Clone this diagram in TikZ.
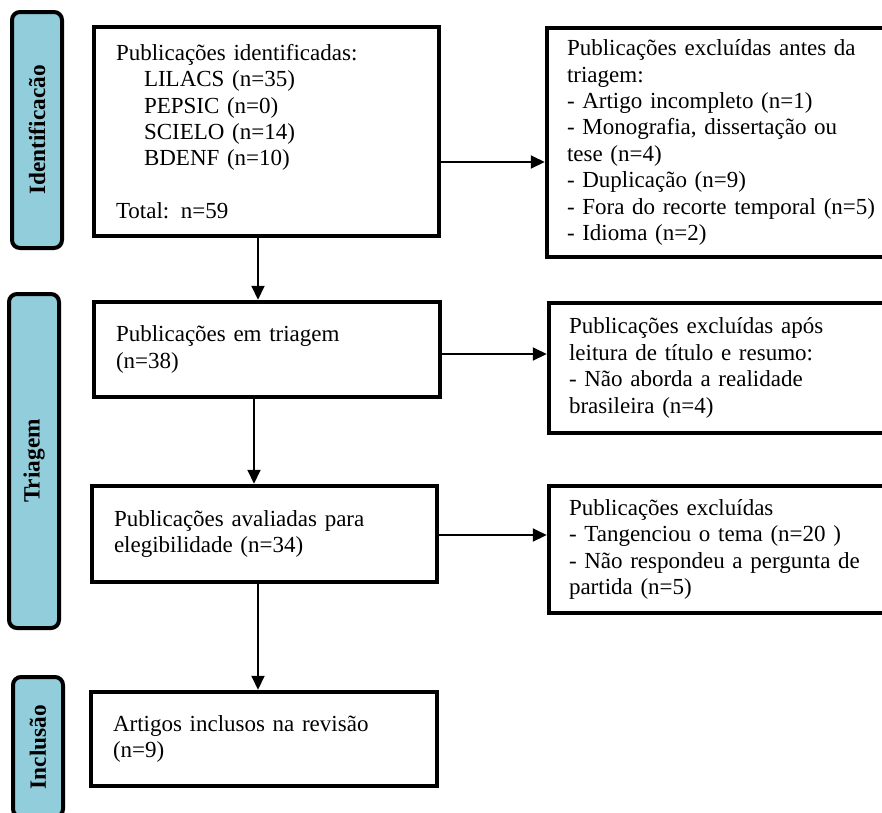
\documentclass[tikz,border=0pt]{standalone}
\usepackage{fontspec}
\setmainfont{Liberation Serif}
\usetikzlibrary{arrows.meta}
\definecolor{sidefill}{HTML}{92CDDC}
\begin{document}
\begin{tikzpicture}[x=1pt,y=-1pt,
  every node/.style={font=\fontsize{23}{26.4}\selectfont},
  mainbox/.style={draw=black, line width=4.5pt, fill=white, inner xsep=22pt, inner ysep=0pt, align=left, anchor=center},
  sidebox/.style={draw=black, line width=4pt, fill=sidefill, rounded corners=8pt, inner sep=0pt},
  sidelabel/.style={rotate=90, font=\fontsize{23.3}{26}\selectfont\bfseries},
  arr/.style={line width=2pt, -{Triangle[length=14pt,width=13pt]}}
]
\clip (0,0) rectangle (882,812);
\fill[white] (0,0) rectangle (882,812);

% sidebars
\node[sidebox, minimum width=50pt, minimum height=236pt] (s1) at (37,130) {};
\node[sidelabel] (s1t) at (s1.center) {Identificacão};
\node[sidebox, minimum width=50pt, minimum height=334pt] (s2) at (34,461) {};
\node[sidelabel] (s2t) at (s2.center) {Triagem};
\node[sidebox, minimum width=50pt, minimum height=140pt] (s3) at (38,747) {};
\node[sidelabel] (s3t) at (s3.center) {Inclusão};

% main boxes
\node[mainbox, text width=301pt, minimum height=209pt] (b1) at (266.5,131.5) {Publicações identificadas:\\
\hspace*{28pt}LILACS (n=35)\\
\hspace*{28pt}PEPSIC (n=0)\\
\hspace*{28pt}SCIELO (n=14)\\
\hspace*{28pt}BDENF (n=10)\\[26.4pt]
Total: n=59};
\node[mainbox, text width=302pt, minimum height=95pt] (b2) at (267,349.5) {Publicações em triagem\\(n=38)};
\node[mainbox, text width=301pt, minimum height=96pt] (b3) at (264.5,534) {Publicações avaliadas para\\elegibilidade (n=34)};
\node[mainbox, text width=302pt, minimum height=94pt] (b4) at (264,739) {Artigos inclusos na revisão\\(n=9)};

% right boxes
\node[mainbox, inner xsep=20pt, text width=320pt, minimum height=229pt] (r1) at (727,142.5) {Publicações excluídas antes da\\triagem:\\- Artigo incompleto (n=1)\\- Monografia, dissertação ou\\tese (n=4)\\- Duplicação (n=9)\\- Fora do recorte temporal (n=5)\\- Idioma (n=2)};
\node[mainbox, inner xsep=20pt, text width=320pt, minimum height=130pt] (r2) at (729,368) {Publicações excluídas após\\leitura de título e resumo:\\- Não aborda a realidade\\brasileira (n=4)};
\node[mainbox, inner xsep=20pt, text width=320pt, minimum height=127pt] (r3) at (729,549.5) {Publicações excluídas\\- Tangenciou o tema (n=20 )\\- Não respondeu a pergunta de\\partida (n=5)};

% connectors
\draw[arr] ([xshift=-8.5pt]b1.south) -- ([xshift=-8.5pt]b1.south |- b2.north);
\draw[arr] ([xshift=-13pt]b2.south) -- ([xshift=-13pt]b2.south |- b3.north);
\draw[arr] ([xshift=-6.5pt]b3.south) -- ([xshift=-6.5pt]b3.south |- b4.north);
\draw[arr] ([yshift=-30.5pt]b1.east) -- ([yshift=-30.5pt]b1.east -| r1.west);
\draw[arr] ([yshift=-4.5pt]b2.east) -- ([yshift=-4.5pt]b2.east -| r2.west);
\draw[arr] ([yshift=-1pt]b3.east) -- ([yshift=-1pt]b3.east -| r3.west);
\end{tikzpicture}
\end{document}
